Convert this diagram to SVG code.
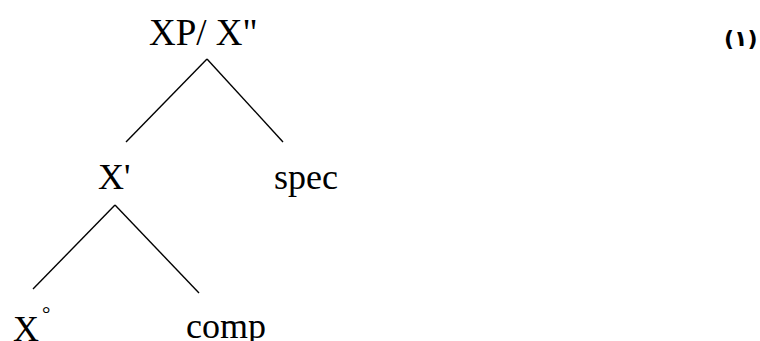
<svg xmlns="http://www.w3.org/2000/svg" width="760" height="341" viewBox="0 0 760 341">
<style>
.t{font-family:"Liberation Serif","Times New Roman",serif;font-size:36px;fill:#000}
.e{stroke:#000;stroke-width:1.4;fill:none}
.n{font-family:"DejaVu Sans","Noto Sans",sans-serif;font-size:22px;font-weight:bold;fill:#000}
</style>
<rect width="760" height="341" fill="#fff"/>
<g id="connectors">
<line class="e" x1="207" y1="59" x2="126" y2="142"/>
<line class="e" x1="207" y1="59" x2="283" y2="142"/>
<line class="e" x1="115" y1="205" x2="33" y2="289"/>
<line class="e" x1="115" y1="205" x2="199" y2="293"/>
</g>
<g id="xp"><text class="t" x="149" y="45" style="font-size:37px">XP/ X"</text></g>
<g id="xbar"><text class="t" x="98" y="189">X'</text></g>
<g id="spec"><text class="t" x="274" y="189">spec</text></g>
<g id="x0"><text class="t" x="13" y="341">X</text><text class="t" x="42" y="321" style="font-size:21px">°</text></g>
<g id="comp"><text class="t" x="186" y="338">comp</text></g>
<g id="label"><text class="n" x="724" y="46">(١)</text></g>
</svg>
